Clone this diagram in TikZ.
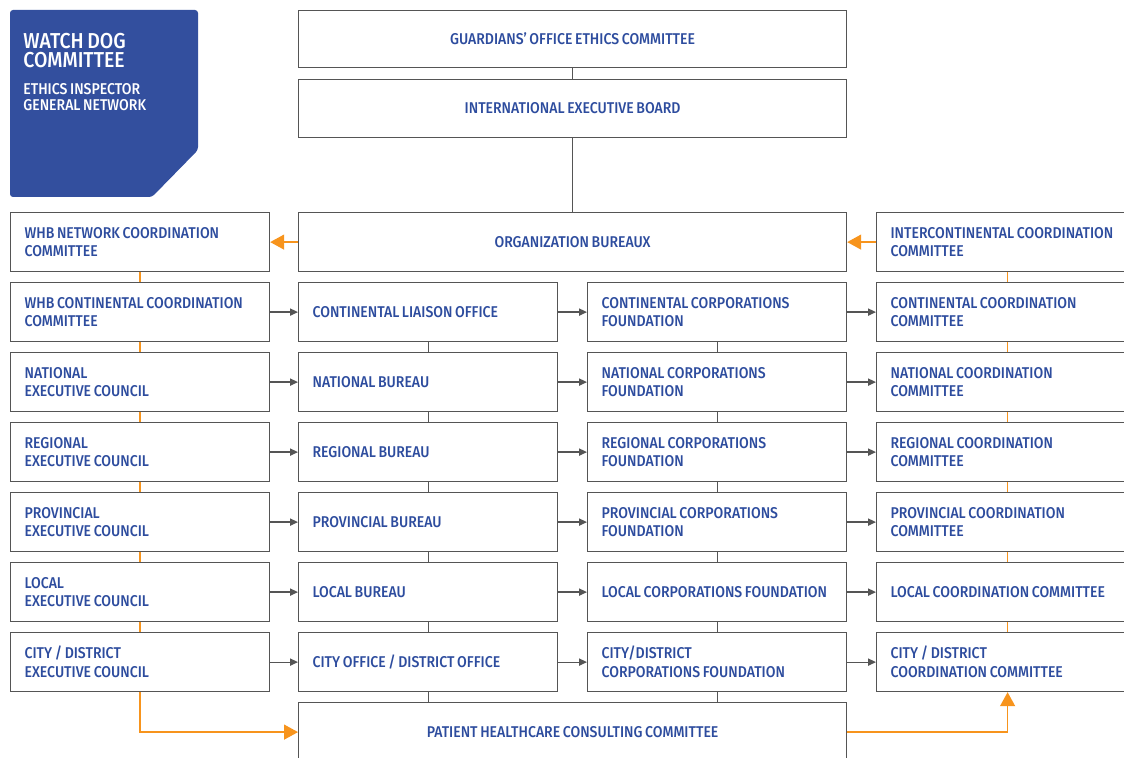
\documentclass[tikz,border=0pt]{standalone}
\usepackage{fontspec}
\setmainfont{Fira Sans}[UprightFont=* Medium, FakeStretch=0.9, WordSpace=0.75]
\usetikzlibrary{arrows.meta}
\definecolor{dogblue}{HTML}{334F9E}
\definecolor{txtblue}{HTML}{2D4C9E}
\definecolor{linegray}{HTML}{555555}
\definecolor{linkorange}{HTML}{F7941D}
\tikzset{
  unit/.style={draw=linegray, fill=white, anchor=north west, line width=0.6pt,
    minimum height=29.5pt, inner xsep=7pt, inner ysep=0pt, align=flush left,
    text=txtblue, font=\fontsize{7.8}{9.4}\selectfont},
  narrow/.style={unit, text width=115.5pt},
  outer/.style={unit, text width=117pt},
  wide/.style={unit, text width=260pt, align=flush center},
  grayline/.style={draw=linegray, line width=0.6pt},
  grayarrow/.style={grayline, -{Triangle[length=4pt,width=3.6pt]}},
  orangeline/.style={draw=linkorange, line width=0.7pt},
  orangearrow/.style={orangeline, -{Triangle[length=7pt,width=7.5pt]}}
}
\begin{document}
\begin{tikzpicture}[x=0.5pt,y=-0.5pt]
  \useasboundingbox (0,0) rectangle (1124,758);
  %watch dog panel
  \fill[dogblue, rounded corners=1.5pt] (10,10) -- (198,10) -- (198,150) -- (152,197) -- (10,197) -- cycle;
  \node[anchor=north west, inner sep=0pt, text=white, align=left,
    font=\fontsize{10.8}{9.6}\selectfont] (dogtitle) at (23,33) {WATCH DOG\\COMMITTEE};
  \node[anchor=north west, inner sep=0pt, text=white, align=left,
    font=\fontsize{7.8}{8}\selectfont] (dogsub) at (23,83) {ETHICS INSPECTOR\\GENERAL NETWORK};
  %top boxes
  \node[wide, minimum height=28.5pt] (guard) at (298,10) {GUARDIANS' OFFICE ETHICS COMMITTEE};
  \node[wide, minimum height=29pt] (board) at (298,79) {INTERNATIONAL EXECUTIVE BOARD};
  \node[wide] (bureaux) at (298,212) {ORGANIZATION BUREAUX};
  \node[narrow] (l1) at (10,212) {WHB NETWORK COORDINATION\\COMMITTEE};
  \node[outer] (r1) at (876,212) {INTERCONTINENTAL COORDINATION\\COMMITTEE};
  %left column
  \node[narrow] (l2) at (10,282) {WHB CONTINENTAL COORDINATION\\COMMITTEE};
  \node[narrow] (l3) at (10,352) {NATIONAL\\EXECUTIVE COUNCIL};
  \node[narrow] (l4) at (10,422) {REGIONAL\\EXECUTIVE COUNCIL};
  \node[narrow] (l5) at (10,492) {PROVINCIAL\\EXECUTIVE COUNCIL};
  \node[narrow] (l6) at (10,562) {LOCAL\\EXECUTIVE COUNCIL};
  \node[narrow] (l7) at (10,632) {CITY / DISTRICT\\EXECUTIVE COUNCIL};
  %bureaux column
  \node[narrow] (m2) at (298,282) {CONTINENTAL LIAISON OFFICE};
  \node[narrow] (m3) at (298,352) {NATIONAL BUREAU};
  \node[narrow] (m4) at (298,422) {REGIONAL BUREAU};
  \node[narrow] (m5) at (298,492) {PROVINCIAL BUREAU};
  \node[narrow] (m6) at (298,562) {LOCAL BUREAU};
  \node[narrow] (m7) at (298,632) {CITY OFFICE / DISTRICT OFFICE};
  %foundation column
  \node[narrow] (c2) at (587,282) {CONTINENTAL CORPORATIONS\\FOUNDATION};
  \node[narrow] (c3) at (587,352) {NATIONAL CORPORATIONS\\FOUNDATION};
  \node[narrow] (c4) at (587,422) {REGIONAL CORPORATIONS\\FOUNDATION};
  \node[narrow] (c5) at (587,492) {PROVINCIAL CORPORATIONS\\FOUNDATION};
  \node[narrow] (c6) at (587,562) {LOCAL CORPORATIONS FOUNDATION};
  \node[narrow] (c7) at (587,632) {CITY/DISTRICT\\CORPORATIONS FOUNDATION};
  %coordination column
  \node[outer] (r2) at (876,282) {CONTINENTAL COORDINATION\\COMMITTEE};
  \node[outer] (r3) at (876,352) {NATIONAL COORDINATION\\COMMITTEE};
  \node[outer] (r4) at (876,422) {REGIONAL COORDINATION\\COMMITTEE};
  \node[outer] (r5) at (876,492) {PROVINCIAL COORDINATION\\COMMITTEE};
  \node[outer] (r6) at (876,562) {LOCAL COORDINATION COMMITTEE};
  \node[outer] (r7) at (876,632) {CITY / DISTRICT\\COORDINATION COMMITTEE};
  %bottom
  \node[wide] (patient) at (298,702) {PATIENT HEALTHCARE CONSULTING COMMITTEE};
  %links
  \draw[grayline] (guard.south) -- (board.north);
  \draw[grayline] (board.south) -- (bureaux.north);
  \draw[orangearrow] (bureaux.west) -- (l1.east);
  \draw[orangearrow] (r1.west) -- (bureaux.east);
  \foreach \i [evaluate=\i as \j using int(\i+1)] in {1,...,6} {
    \draw[orangeline] (l\i.south) -- (l\j.north);
    \draw[orangeline] (r\i.south) -- (r\j.north);
  }
  \foreach \i [evaluate=\i as \j using int(\i+1)] in {2,...,6} {
    \draw[grayline] (m\i.south) -- (m\j.north);
    \draw[grayline] (c\i.south) -- (c\j.north);
  }
  \draw[grayline] (m7.south) -- (m7.south |- patient.north);
  \draw[grayline] (c7.south) -- (c7.south |- patient.north);
  \foreach \i in {2,...,7} {
    \draw[grayarrow] (l\i.east) -- (m\i.west);
    \draw[grayarrow] (m\i.east) -- (c\i.west);
    \draw[grayarrow] (c\i.east) -- (r\i.west);
  }
  \draw[orangearrow] (l7.south) |- (patient.west);
  \draw[orangearrow] (patient.east) -| (r7.south);
\end{tikzpicture}
\end{document}
